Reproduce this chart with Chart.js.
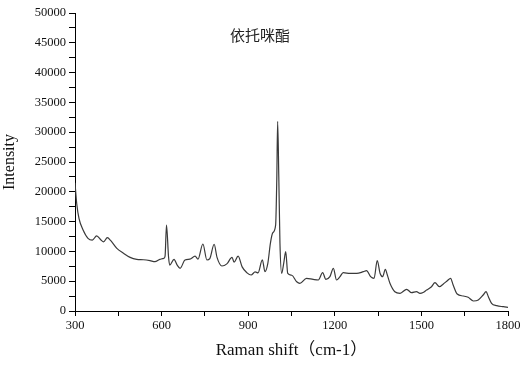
<!DOCTYPE html>
<html>
<head>
<meta charset="utf-8">
<script src="https://cdn.jsdelivr.net/npm/chart.js@4/dist/chart.umd.min.js"></script>
<style>
  html, body { margin: 0; padding: 0; background: #fff; }
  #wrap { width: 526px; height: 369px; }
</style>
</head>
<body>
<div id="wrap"><canvas id="ramanChart"></canvas></div>
<script>
// Raman spectrum
const ramanShift = [
  300, 306, 314, 328, 345, 360, 375, 390, 399, 412, 424, 445, 468, 491, 514, 537,
  560, 577, 594, 608, 612, 617, 624, 628, 643, 654, 664, 681, 698, 716, 726, 743,
  757, 767, 782, 792, 809, 826, 844, 851, 865, 879, 896, 910, 924, 934, 949, 958,
  968, 977, 985, 995, 999, 1002, 1006, 1010, 1016, 1023, 1030, 1037, 1051, 1068,
  1079, 1102, 1125, 1143, 1158, 1169, 1183, 1195, 1206, 1218, 1229, 1253, 1276,
  1299, 1310, 1324, 1336, 1347, 1357, 1366, 1375, 1382, 1391, 1408, 1426, 1449,
  1466, 1483, 1495, 1506, 1518, 1535, 1547, 1562, 1576, 1590, 1601, 1610, 1624,
  1645, 1662, 1680, 1697, 1714, 1724, 1732, 1743, 1761, 1784, 1800
];
const intensity = [
  21500, 18000, 15500, 13600, 12200, 11900, 12600, 11900, 11600, 12300, 11800, 10500, 9700, 9000, 8670, 8600,
  8440, 8270, 8670, 8840, 9200, 14400, 9100, 7700, 8670, 7700, 7160, 8560, 8700, 9200, 8700, 11240,
  8560, 8800, 11200, 9000, 7550, 7900, 9000, 8200, 9200, 7400, 6400, 6040, 6550, 6400, 8600, 6600,
  8000, 11400, 13100, 14400, 22000, 31800, 22500, 11400, 6300, 8000, 9950, 6300, 6000, 4900,
  4650, 5480, 5300, 5200, 6430, 5300, 5760, 7160, 5200, 5760, 6430, 6300, 6300,
  6600, 6770, 5760, 5480, 8440, 6300, 5760, 7000, 6040, 4650, 3240, 2970, 3640,
  3070, 3240, 2970, 3100, 3520, 4080, 4750, 4080, 4530, 5080, 5480, 4360, 2850,
  2520, 2300, 1680, 1850, 2680, 3240, 2400, 1290, 890, 720, 620
];
const chartTitle = '依托咪酯';
const xTitle = 'Raman shift（cm-1）';
const yTitle = 'Intensity';

const serif = "'Liberation Serif', 'Times New Roman', 'Noto Sans CJK SC', serif";

// compound name written inside the plot area
const innerTitle = {
  id: 'innerTitle',
  afterDraw(chart) {
    const ctx = chart.ctx;
    ctx.save();
    ctx.font = "15px 'Noto Sans CJK SC', sans-serif";
    ctx.fillStyle = '#222';
    ctx.textAlign = 'center';
    ctx.textBaseline = 'middle';
    ctx.fillText(chartTitle, 260, 35);
    ctx.restore();
  }
};

const points = ramanShift.map((x, i) => ({ x: x, y: intensity[i] }));

new Chart(document.getElementById('ramanChart'), {
  type: 'line',
  data: {
    datasets: [{
      data: points,
      borderColor: '#3a3a3a',
      borderWidth: 1.2,
      pointRadius: 0,
      fill: false,
      cubicInterpolationMode: 'monotone'
    }]
  },
  options: {
    responsive: true,
    maintainAspectRatio: false,
    animation: false,
    layout: { padding: { top: 13, right: 18, left: 0, bottom: 0 } },
    plugins: {
      legend: { display: false },
      tooltip: { enabled: false }
    },
    scales: {
      x: {
        type: 'linear',
        min: 300,
        max: 1800,
        afterFit: s => { s.height = 58; },
        border: { color: '#000', width: 1 },
        grid: { drawOnChartArea: false, color: '#000', tickLength: 5 },
        ticks: {
          stepSize: 150,
          autoSkip: false,
          maxRotation: 0,
          padding: 2,
          color: '#111',
          font: { family: serif, size: 12.5 },
          callback: v => (v % 300 === 0 ? v : '')
        },
        title: {
          display: true,
          text: xTitle,
          color: '#111',
          font: { family: serif, size: 17 },
          padding: { top: 0, bottom: 8 }
        }
      },
      y: {
        min: 0,
        max: 50000,
        afterFit: s => { s.width = 75; },
        border: { color: '#000', width: 1 },
        grid: { drawOnChartArea: false, color: '#000', tickLength: 6 },
        ticks: {
          stepSize: 2500,
          autoSkip: false,
          padding: 3,
          color: '#111',
          font: { family: serif, size: 12.5 },
          callback: v => (v % 5000 === 0 ? v : '')
        },
        title: {
          display: true,
          text: yTitle,
          color: '#111',
          font: { family: serif, size: 16 },
          padding: { top: 0, bottom: 0 }
        }
      }
    }
  },
  plugins: [innerTitle]
});
</script>
</body>
</html>
